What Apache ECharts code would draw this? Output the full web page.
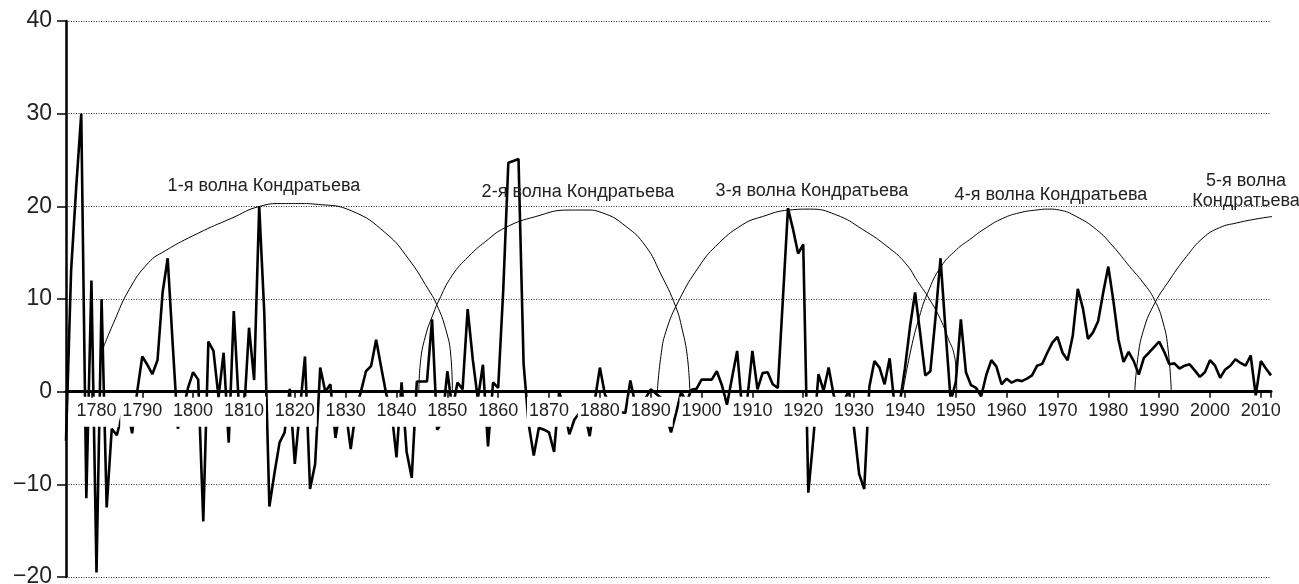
<!DOCTYPE html>
<html>
<head>
<meta charset="utf-8">
<script src="https://cdn.jsdelivr.net/npm/echarts@6/dist/echarts.min.js"></script>
<style>
html,body{margin:0;padding:0;background:#fff;}
#chart{width:1299px;height:584px;}
</style>
</head>
<body>
<div id="chart"></div>
<script>
// ---- data ----
const firstYear = 1775;
const lastYear = 2012;
const values = [
  -5.3, 13, 22, 30, -11.5, 12, -19.5, 10, -12.5, -4,            // 1775-1784
  -4.7, -2.5, -1.5, -4.5, 0, 3.8, 2.9, 1.9, 3.4, 10.7,           // 1785-1794
  14.4, 5, -4, -2, 0.4, 2.1, 1.3, -14, 5.4, 4.4,                 // 1795-1804
  -0.6, 4.2, -5.5, 8.7, -1.5, -2.5, 6.9, 1.25, 20, 8.5,          // 1805-1814
  -12.4, -8.8, -5.5, -4.4, 0.3, -7.8, -2, 3.8, -10.5, -7.8,      // 1815-1824
  2.6, 0, 0.8, -5, -1.5, -2, -6.2, -2, 0, 2.2,                   // 1825-1834
  2.75, 5.6, 2.6, -0.3, -2, -7.1, 1.0, -6.5, -9.3, 1.1,          // 1835-1844
  1.1, 1.1, 7.8, -4.1, -3.3, 2.2, -1.9, 1.0, 0.25, 8.9,          // 1845-1854
  3.5, -0.8, 2.9, -5.9, 1.0, 0.4, 11, 24.7, 24.9, 25.1,          // 1855-1864
  3, -3.5, -6.9, -3.9, -4.1, -4.4, -6.5, 0, -2, -4.6,            // 1865-1874
  -3, -2.3, -2.3, -4.8, -1, 2.6, -0.3, -1.5, -2.2, -2.2,         // 1875-1884
  -2.3, 1.2, -1.5, -1.5, -0.7, 0.25, -0.2, -0.65, -2.5, -4.4,    // 1885-1894
  -2.3, 0, -1.2, 0.2, 0.3, 1.3, 1.3, 1.3, 2.2, 0.7,              // 1895-1904
  -1.4, 1.5, 4.4, -2, -0.8, 4.4, 0.25, 2.0, 2.1, 0.8,            // 1905-1914
  0.4, 10, 19.8, 17.5, 14.9, 15.9, -10.9, -5, 1.9, 0.1,          // 1915-1924
  2.6, -0.4, -1.9, -1.0, 0.1, -4, -8.9, -10.5, 0.5, 3.3,         // 1925-1934
  2.6, 0.8, 3.6, -1.7, -1.2, 2.5, 7, 10.7, 6.3, 1.75,            // 1935-1944
  2.2, 7.9, 14.4, 6.5, -1.0, 1.0, 7.8, 2.1, 0.7, 0.4,            // 1945-1954
  -0.5, 1.8, 3.4, 2.7, 0.8, 1.4, 0.97, 1.25, 1.14, 1.4,          // 1955-1964
  1.75, 2.8, 3.0, 4.2, 5.3, 5.9, 4.2, 3.4, 6.0, 11.1,            // 1965-1974
  9.0, 5.7, 6.4, 7.6, 10.7, 13.5, 9.8, 5.6, 3.2, 4.3,            // 1975-1984
  3.3, 1.85, 3.65, 4.2, 4.8, 5.4, 4.3, 2.95, 3.05, 2.5,          // 1985-1994
  2.8, 2.95, 2.3, 1.6, 2.1, 3.4, 2.8, 1.5, 2.4, 2.8,             // 1995-2004
  3.5, 3.1, 2.8, 3.9, -0.4, 3.3, 2.5, 1.76                       // 2005-2012
];
const tickYears = [1780,1790,1800,1810,1820,1830,1840,1850,1860,1870,1880,1890,1900,1910,1920,1930,1940,1950,1960,1970,1980,1990,2000,2010];
const tickMarks = tickYears.concat([2012]);

const arc1Years  = [1782.3, 1784.5, 1787.4, 1791.2, 1794.5, 1801.0, 1807.5, 1813.1, 1817.4, 1820.7, 1824.7, 1831.2, 1837.9, 1842.4, 1846.3, 1847.9, 1849.7, 1850.7, 1851.0];
const arc1Values = [4.7, 7.6, 11.0, 13.9, 15.2, 17.1, 18.7, 20.0, 20.3, 20.3, 20.2, 19.5, 17.1, 14.3, 11.0, 9.4, 6.7, 3.8, 0];
const arc2Years  = [1844.4, 1844.7, 1845.7, 1847.3, 1848.3, 1850.9, 1854.2, 1857.5, 1861.4, 1867.4, 1873.9, 1877.2, 1880.5, 1885.1, 1889.0, 1891.9, 1894.9, 1896.2, 1897.2, 1897.7];
const arc2Values = [0, 3.1, 6.0, 8.5, 9.8, 12.5, 14.6, 16.2, 17.7, 18.9, 19.6, 19.6, 19.3, 17.85, 15.7, 12.8, 9.2, 6.7, 3.8, 0];
const arc3Years  = [1891.3, 1892.0, 1893.0, 1895.6, 1899.5, 1902.8, 1908.0, 1912.0, 1917.2, 1921.2, 1926.4, 1931.7, 1936.9, 1940.2, 1942.5, 1944.8, 1947.0, 1948.6, 1949.6, 1950.05, 1950.2];
const arc3Values = [0, 3.8, 6.5, 9.9, 13.5, 15.7, 18.0, 18.9, 19.6, 19.7, 19.1, 17.5, 15.5, 13.8, 11.9, 10.0, 7.8, 5.6, 4.2, 2.2, 0];
const arc4Years  = [1939.6, 1941.2, 1942.85, 1944.5, 1947.1, 1950.1, 1952.7, 1956.0, 1959.25, 1962.5, 1965.8, 1968.45, 1970.4, 1973.7, 1977.65, 1980.9, 1984.2, 1986.8, 1989.1, 1990.8, 1991.75, 1992.4];
const arc4Values = [0, 4.6, 8.1, 10.7, 13.5, 15.3, 16.4, 17.7, 18.7, 19.3, 19.6, 19.7, 19.6, 18.9, 17.5, 15.7, 13.5, 11.8, 9.9, 7.4, 4.6, 0];
const arc5Years  = [1985.2, 1985.85, 1986.85, 1988.8, 1992.1, 1995.4, 1998.65, 2001.9, 2005.2, 2009.8, 2013.75];
const arc5Values = [0, 3.8, 6.5, 9.2, 12.1, 14.6, 16.6, 17.7, 18.2, 18.7, 19.0];

const waveLabels = ['1-я волна Кондратьева', '2-я волна Кондратьева', '3-я волна Кондратьева', '4-я волна Кондратьева', '5-я волна\nКондратьева'];

// ---- build ----
const years = [];
for (let y = firstYear; y <= lastYear; y++) years.push(y);
const mainData = years.map((y, i) => [y, values[i]]);
const pairs = (xs, vs) => xs.map((x, i) => [x, vs[i]]);

const FONT = '"Liberation Sans", Arial, sans-serif';
const TEXT = '#222';

function arcSeries(xs, vs) {
  return {
    type: 'line', data: pairs(xs, vs), symbol: 'none', smooth: 0.5,
    clip: false, silent: true, z: 2,
    lineStyle: { color: '#000', width: 1 }
  };
}

// axis year labels, drawn as labels of invisible points sitting on the zero line
const yearLabelData = tickYears.map(y => [y, 0]);

const labelPos = [[264, 186], [578, 192], [812, 191], [1051, 195], [1246, 191]];

const chart = echarts.init(document.getElementById('chart'), null, { renderer: 'canvas' });
chart.setOption({
  animation: false,
  backgroundColor: '#fff',
  grid: { left: 66, right: 28, top: 21, bottom: 7, containLabel: false, outerBoundsMode: 'none' },
  xAxis: {
    type: 'value', min: firstYear, max: lastYear, z: 6,
    axisLine: { show: true, onZero: true, lineStyle: { color: '#000', width: 3 } },
    axisTick: { show: true, customValues: tickMarks, length: 6, lineStyle: { color: '#000', width: 1.5 } },
    axisLabel: { show: false },
    splitLine: { show: false }
  },
  yAxis: {
    type: 'value', min: -20, max: 40, interval: 10,
    axisLine: { show: true, lineStyle: { color: '#000', width: 2.5 } },
    axisTick: { show: true, length: 9, lineStyle: { color: '#000', width: 1.5 } },
    axisLabel: { margin: 14, fontSize: 23, fontFamily: FONT, color: TEXT,
      formatter: v => String(v).replace('-', '\u2212') },
    splitLine: { show: true, lineStyle: { color: '#333', type: [1, 1.5], width: 1 } }
  },
  series: [
    { type: 'line', data: mainData, symbol: 'none', z: 3, silent: true,
      lineStyle: { color: '#000', width: 2.6 } },
    arcSeries(arc1Years, arc1Values),
    arcSeries(arc2Years, arc2Values),
    arcSeries(arc3Years, arc3Values),
    arcSeries(arc4Years, arc4Values),
    arcSeries(arc5Years, arc5Values),
    { type: 'scatter', data: yearLabelData, symbol: 'circle', symbolSize: 0.1, z: 4, silent: true,
      itemStyle: { color: 'rgba(0,0,0,0)', opacity: 1 },
      label: { show: true, position: 'bottom', distance: 5, formatter: p => String(p.value[0]),
        fontSize: 18, fontFamily: FONT, color: TEXT, backgroundColor: '#fff', opacity: 1,
        padding: [5, 2, 7, 2], lineHeight: 18 },
      labelLayout: p => (p.dataIndex === 0 ? { dx: 5, hideOverlap: false } : { hideOverlap: false }) }
  ],
  graphic: waveLabels.map((t, i) => ({
    type: 'text', x: labelPos[i][0], y: labelPos[i][1], z: 10, silent: true,
    style: { text: t, fill: TEXT, font: '18px ' + FONT, align: 'center', verticalAlign: 'middle', lineHeight: 20 }
  }))
});
</script>
</body>
</html>
